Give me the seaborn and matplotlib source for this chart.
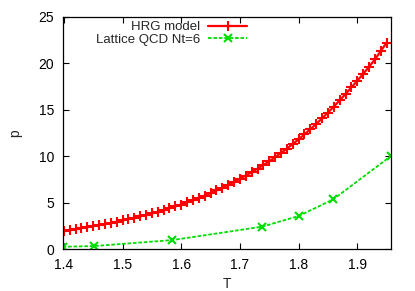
import numpy as np
import pandas as pd
import matplotlib
matplotlib.use("Agg")
import matplotlib.pyplot as plt
import seaborn as sns

# HRG model (T step 0.01)
hrg_T = [1.40, 1.41, 1.42, 1.43, 1.44, 1.45, 1.46, 1.47, 1.48, 1.49,
         1.50, 1.51, 1.52, 1.53, 1.54, 1.55, 1.56, 1.57, 1.58, 1.59,
         1.60, 1.61, 1.62, 1.63, 1.64, 1.65, 1.66, 1.67, 1.68, 1.69,
         1.70, 1.71, 1.72, 1.73, 1.74, 1.75, 1.76, 1.77, 1.78, 1.79,
         1.80, 1.81, 1.82, 1.83, 1.84, 1.85, 1.86, 1.87, 1.88, 1.89,
         1.90, 1.91, 1.92, 1.93, 1.94, 1.95]
hrg_p = [2.00, 2.09, 2.18, 2.28, 2.38, 2.49, 2.60, 2.72, 2.84, 2.97,
         3.11, 3.25, 3.39, 3.54, 3.70, 3.87, 4.04, 4.23, 4.42, 4.61,
         4.82, 5.04, 5.27, 5.51, 5.77, 6.05, 6.33, 6.62, 6.93, 7.25,
         7.58, 7.93, 8.29, 8.67, 9.06, 9.47, 9.90, 10.35, 10.82, 11.31,
         11.82, 12.35, 12.90, 13.47, 14.07, 14.69, 15.33, 16.00, 16.69, 17.40,
         18.10, 18.85, 19.60, 20.40, 21.30, 22.20]

# Lattice QCD Nt=6
lat_T = [1.398, 1.452, 1.585, 1.738, 1.800, 1.859, 1.958]
lat_p = [0.28, 0.36, 1.00, 2.44, 3.58, 5.37, 10.06]

x_ticks = [1.4, 1.5, 1.6, 1.7, 1.8, 1.9]
y_ticks = [0, 5, 10, 15, 20, 25]

red = "#ff0000"
green = "#00dd00"

sns.set_style("ticks")
plt.rcParams["font.family"] = ["Liberation Sans", "DejaVu Sans"]

fig = plt.figure(figsize=(4.15, 2.91), dpi=100)
ax = fig.add_axes([0.151, 0.143, 0.792, 0.800])

hrg = pd.DataFrame({"T": hrg_T, "p": hrg_p})
lat = pd.DataFrame({"T": lat_T, "p": lat_p})

sns.lineplot(data=hrg, x="T", y="p", ax=ax, color=red, linewidth=1.6,
             marker="+", markersize=7, markeredgewidth=1.5,
             markeredgecolor=red, label="HRG model", sort=False)
sns.lineplot(data=lat, x="T", y="p", ax=ax, color=green, linewidth=1.3,
             linestyle=(0, (2, 1)), marker="x", markersize=6,
             markeredgewidth=1.5, markeredgecolor=green,
             label="Lattice QCD Nt=6", sort=False)

ax.set_xlim(1.398, 1.958)
ax.set_ylim(0, 25)
ax.set_xticks(x_ticks)
ax.set_yticks(y_ticks)
ax.set_xticklabels([f"{t:.1f}" for t in x_ticks])
ax.set_yticklabels([str(t) for t in y_ticks])
ax.tick_params(direction="in", length=4, width=0.8, top=True, right=True,
               labelsize=10, colors="black", pad=6)
for s in ax.spines.values():
    s.set_color("black")
    s.set_linewidth(0.9)
ax.set_xlabel("T", fontsize=10, labelpad=4)
ax.set_ylabel("p", fontsize=10, labelpad=12)

leg = ax.legend(loc="upper right", bbox_to_anchor=(0.562, 0.98), frameon=False,
                markerfirst=False, fontsize=9.5, handlelength=3.0,
                handletextpad=0.6, labelspacing=0.0, borderpad=0,
                borderaxespad=0)

fig.savefig("out.png", dpi=100)
